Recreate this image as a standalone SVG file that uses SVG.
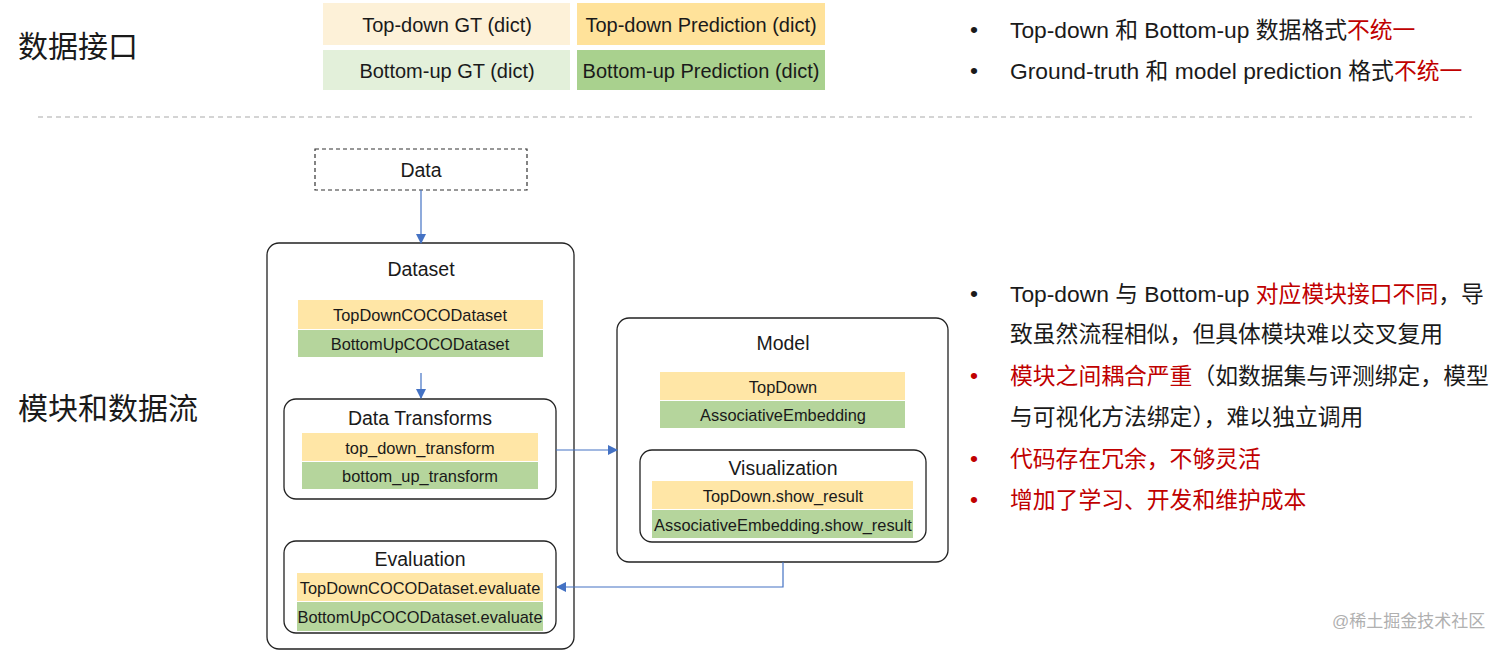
<svg xmlns="http://www.w3.org/2000/svg" width="1512" height="650" viewBox="0 0 1512 650">
<defs>
<marker id="ah" viewBox="0 0 10 10" refX="9" refY="5" markerWidth="10" markerHeight="10" markerUnits="userSpaceOnUse" orient="auto">
<path d="M0,0 L10,5 L0,10 z" fill="#4472C4"/>
</marker>
<style>
text{font-family:"Liberation Sans","Noto Sans CJK SC",sans-serif;fill:#1a1a1a;}
.c{text-anchor:middle;}
.box{fill:#fff;stroke:#222;stroke-width:1.3;}
.y{fill:#FFE6A6;}
.g{fill:#B5D59C;}
.t16{font-size:16.4px;}
.t19{font-size:19.5px;}
.t20{font-size:20px;}
.r{fill:#C00000;}
.rt{font-size:22.8px;}
.h{font-size:30px;}
.conn{stroke:#4472C4;stroke-width:1.2;fill:none;marker-end:url(#ah);}
</style>
</defs>
<rect width="1512" height="650" fill="#fff"/>

<text class="h" x="18" y="57">数据接口</text>
<text class="h" x="18" y="419">模块和数据流</text>

<g id="data-interface">
<rect x="323" y="3" width="247" height="42" fill="#FDF1D8"/>
<text class="c t20" x="447" y="32">Top-down GT (dict)</text>
<rect x="577" y="3" width="248" height="42" fill="#FFE29A"/>
<text class="c t20" x="701" y="32">Top-down Prediction (dict)</text>
<rect x="323" y="50" width="247" height="40" fill="#E3F0DA"/>
<text class="c t20" x="447" y="78">Bottom-up GT (dict)</text>
<rect x="577" y="50" width="248" height="40" fill="#A9D18E"/>
<text class="c t20" x="701" y="78">Bottom-up Prediction (dict)</text>
</g>

<line x1="38" y1="117" x2="1472" y2="117" stroke="#aaa" stroke-width="1.2" stroke-dasharray="5,4"/>

<g id="data">
<rect x="315" y="149" width="212" height="41" fill="#fff" stroke="#333" stroke-width="1.2" stroke-dasharray="4,3"/>
<text class="c t19" x="421" y="177">Data</text>
</g>

<g id="dataset">
<rect class="box" x="267" y="243" width="307" height="406" rx="12"/>
<text class="c t19" x="421" y="276">Dataset</text>
<rect class="y" x="298" y="300" width="245" height="29"/>
<text class="c t16" x="420" y="321">TopDownCOCODataset</text>
<rect class="g" x="298" y="330" width="245" height="27"/>
<text class="c t16" x="420" y="350">BottomUpCOCODataset</text>
</g>

<g id="data-transforms">
<rect class="box" x="284" y="399" width="272" height="100" rx="12"/>
<text class="c t19" x="420" y="425">Data Transforms</text>
<rect class="y" x="302" y="433" width="236" height="28"/>
<text class="c t16" x="420" y="454">top_down_transform</text>
<rect class="g" x="302" y="462" width="236" height="27"/>
<text class="c t16" x="420" y="482">bottom_up_transform</text>
</g>

<g id="evaluation">
<rect class="box" x="284" y="541" width="272" height="92" rx="12"/>
<text class="c t19" x="420" y="566">Evaluation</text>
<rect class="y" x="297" y="573" width="246" height="28"/>
<text class="c t16" x="420" y="594">TopDownCOCODataset.evaluate</text>
<rect class="g" x="297" y="602" width="246" height="29"/>
<text class="c t16" x="420" y="623">BottomUpCOCODataset.evaluate</text>
</g>

<g id="model">
<rect class="box" x="617" y="318" width="331" height="244" rx="12"/>
<text class="c t19" x="783" y="350">Model</text>
<rect class="y" x="660" y="372" width="245" height="28"/>
<text class="c t16" x="783" y="393">TopDown</text>
<rect class="g" x="660" y="401" width="245" height="27"/>
<text class="c t16" x="783" y="421">AssociativeEmbedding</text>
</g>

<g id="visualization">
<rect class="box" x="640" y="450" width="286" height="92" rx="12"/>
<text class="c t19" x="783" y="475">Visualization</text>
<rect class="y" x="652" y="481" width="261" height="28"/>
<text class="c t16" x="783" y="502">TopDown.show_result</text>
<rect class="g" x="652" y="510" width="261" height="28"/>
<text class="c t16" x="783" y="531">AssociativeEmbedding.show_result</text>
</g>

<g id="connectors">
<path class="conn" d="M421,190 L421,243"/>
<path class="conn" d="M421,373 L421,398"/>
<path class="conn" d="M556,450 L617,450"/>
<path class="conn" d="M783,562 L783,587 L557,587"/>
</g>

<g id="notes-top">
<text class="rt" x="970" y="37">•</text>
<text class="rt" x="1010" y="38">Top-down 和 Bottom-up 数据格式<tspan class="r">不统一</tspan></text>
<text class="rt" x="970" y="78">•</text>
<text class="rt" x="1010" y="79">Ground-truth 和 model prediction 格式<tspan class="r">不统一</tspan></text>
</g>

<g id="notes-bottom">
<text class="rt" x="970" y="301">•</text>
<text class="rt" x="1010" y="302">Top-down 与 Bottom-up <tspan class="r">对应模块接口不同</tspan>，导</text>
<text class="rt" x="1010" y="342">致虽然流程相似，但具体模块难以交叉复用</text>
<text class="rt r" x="970" y="383">•</text>
<text class="rt" x="1010" y="384"><tspan class="r">模块之间耦合严重</tspan>（如数据集与评测绑定，模型</text>
<text class="rt" x="1010" y="425">与可视化方法绑定），难以独立调用</text>
<text class="rt r" x="970" y="466">•</text>
<text class="rt r" x="1010" y="467">代码存在冗余，不够灵活</text>
<text class="rt r" x="970" y="507">•</text>
<text class="rt r" x="1010" y="508">增加了学习、开发和维护成本</text>
</g>

<text x="1332" y="627" font-size="17" style="fill:#b0b0b0">@稀土掘金技术社区</text>
</svg>
